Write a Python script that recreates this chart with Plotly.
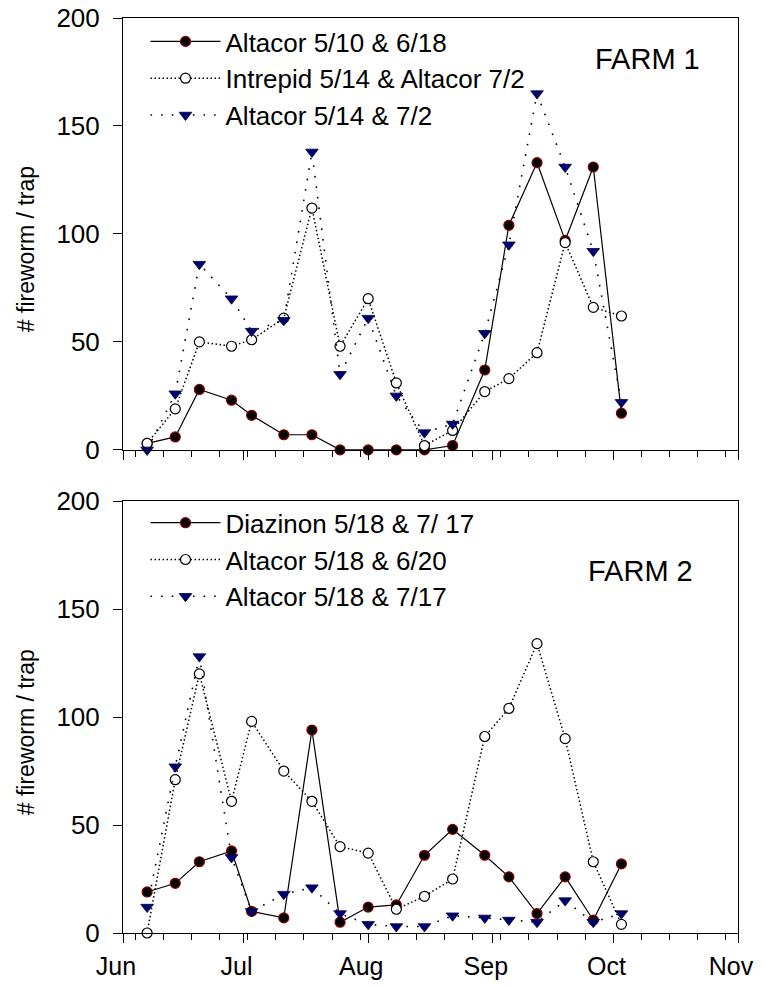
import plotly.graph_objects as go

# ---- data ----
dates = ['2010-06-07', '2010-06-14', '2010-06-20', '2010-06-28', '2010-07-03',
         '2010-07-11', '2010-07-18', '2010-07-25', '2010-08-01', '2010-08-08',
         '2010-08-15', '2010-08-22', '2010-08-30', '2010-09-05', '2010-09-12',
         '2010-09-19', '2010-09-26', '2010-10-03']

farm1_names = ['Altacor 5/10 & 6/18', 'Intrepid 5/14 & Altacor 7/2', 'Altacor 5/14 & 7/2']
farm1_a = [3, 6, 28, 23, 16, 7, 7, 0, 0, 0, 0, 2, 37, 104, 133, 97, 131, 17]
farm1_b = [3, 19, 50, 48, 51, 61, 112, 48, 70, 31, 2, 9, 27, 33, 45, 96, 66, 62]
farm1_c = [0, 26, 86, 70, 55, 60, 138, 35, 61, 25, 8, 12, 54, 95, 165, 131, 92, 22]

farm2_names = ['Diazinon 5/18 & 7/ 17', 'Altacor 5/18 & 6/20', 'Altacor 5/18 & 7/17']
farm2_a = [19, 23, 33, 38, 10, 7, 94, 5, 12, 13, 36, 48, 36, 26, 9, 26, 6, 32]
farm2_b = [0, 71, 120, 61, 98, 75, 61, 40, 37, 11, 17, 25, 91, 104, 134, 90, 33, 4]
farm2_c = [12, 77, 128, 35, 10, 18, 21, 9, 4, 3, 3, 8, 7, 6, 5, 15, 5, 9]

panel_labels = ['FARM 1', 'FARM 2']
y_title = '# fireworm / trap'
x_range = ['2010-06-01', '2010-11-01']

FONT = 'Liberation Sans, Arial, sans-serif'

styles = [
    dict(mode='lines+markers', line=dict(color='black', width=1.2, dash='solid'),
         marker=dict(symbol='circle', size=10, color='black', line=dict(color='#8b0000', width=1.2))),
    dict(mode='lines+markers', line=dict(color='black', width=1.5, dash='1.5px,2.5px'),
         marker=dict(symbol='circle', size=10, color='white', line=dict(color='black', width=1.2))),
    dict(mode='lines+markers', line=dict(color='black', width=1.6, dash='1.6px,9px'),
         marker=dict(symbol='triangle-down', size=11, color='#000070', line=dict(color='#000040', width=0.8))),
]

fig = go.Figure()
panels = [
    (farm1_names, [farm1_a, farm1_b, farm1_c], 'x', 'y', 'legend'),
    (farm2_names, [farm2_a, farm2_b, farm2_c], 'x2', 'y2', 'legend2'),
]
for names, series, xa, ya, lg in panels:
    for name, vals, st in zip(names, series, styles):
        fig.add_trace(go.Scatter(x=dates, y=vals, name=name, xaxis=xa, yaxis=ya,
                                 legend=lg, cliponaxis=False, **st))

xcommon = dict(type='date', range=x_range, tick0='2010-06-01', dtick='M1', tickformat='%b',
               showline=True, linecolor='black', linewidth=1, mirror=True,
               ticks='outside', ticklen=9, tickcolor='black', tickwidth=1,
               showgrid=False, zeroline=False, automargin=False,
               tickfont=dict(family=FONT, size=25, color='black'),
               ticklabelshift=-7, ticklabelstandoff=2,
               minor=dict(tick0='2010-06-04', dtick=7 * 86400000, ticks='outside',
                          ticklen=6, tickcolor='black', tickwidth=1, showgrid=False))
ycommon = dict(range=[0, 200], dtick=50, showline=True, linecolor='black', linewidth=1,
               mirror=True, ticks='outside', ticklen=9, tickcolor='black', tickwidth=1,
               showgrid=False, zeroline=False, automargin=False, ticklabelstandoff=8,
               tickfont=dict(family=FONT, size=26, color='black'))

top_dom = [0.528, 1.0]
bot_dom = [0.0, 0.472]

legend_common = dict(xanchor='left', yanchor='top', bgcolor='rgba(0,0,0,0)',
                     font=dict(family=FONT, size=26, color='black'), itemwidth=70,
                     tracegroupgap=0, borderwidth=0)

fig.update_layout(
    template='none',
    width=767, height=986,
    margin=dict(l=123, r=29, t=18, b=53, autoexpand=False),
    paper_bgcolor='white', plot_bgcolor='white',
    font=dict(family=FONT, color='black'),
    xaxis=dict(xcommon, domain=[0, 1], anchor='y', showticklabels=False),
    yaxis=dict(ycommon, domain=top_dom, anchor='x'),
    xaxis2=dict(xcommon, domain=[0, 1], anchor='y2'),
    yaxis2=dict(ycommon, domain=bot_dom, anchor='x2'),
    legend=dict(legend_common, x=0.0366, y=1.0),
    legend2=dict(legend_common, x=0.0366, y=0.474),
    showlegend=True,
)

# panel labels and y titles
for lab, ya, xx, yy in zip(panel_labels, ['y', 'y2'], [0.853, 0.8416], [0.906, 0.838]):
    fig.add_annotation(text=lab, xref='x domain', yref=ya + ' domain', x=xx, y=yy,
                       xanchor='center', yanchor='middle', showarrow=False,
                       font=dict(family=FONT, size=29, color='black'))
    fig.add_annotation(text=y_title, xref='paper', yref=ya + ' domain', x=-0.1576, y=0.465,
                       xanchor='center', yanchor='middle', textangle=-90, showarrow=False,
                       font=dict(family=FONT, size=23, color='black'))

fig.write_html('out.html', config={'displayModeBar': False},
               post_script="document.body.style.margin='0';")
